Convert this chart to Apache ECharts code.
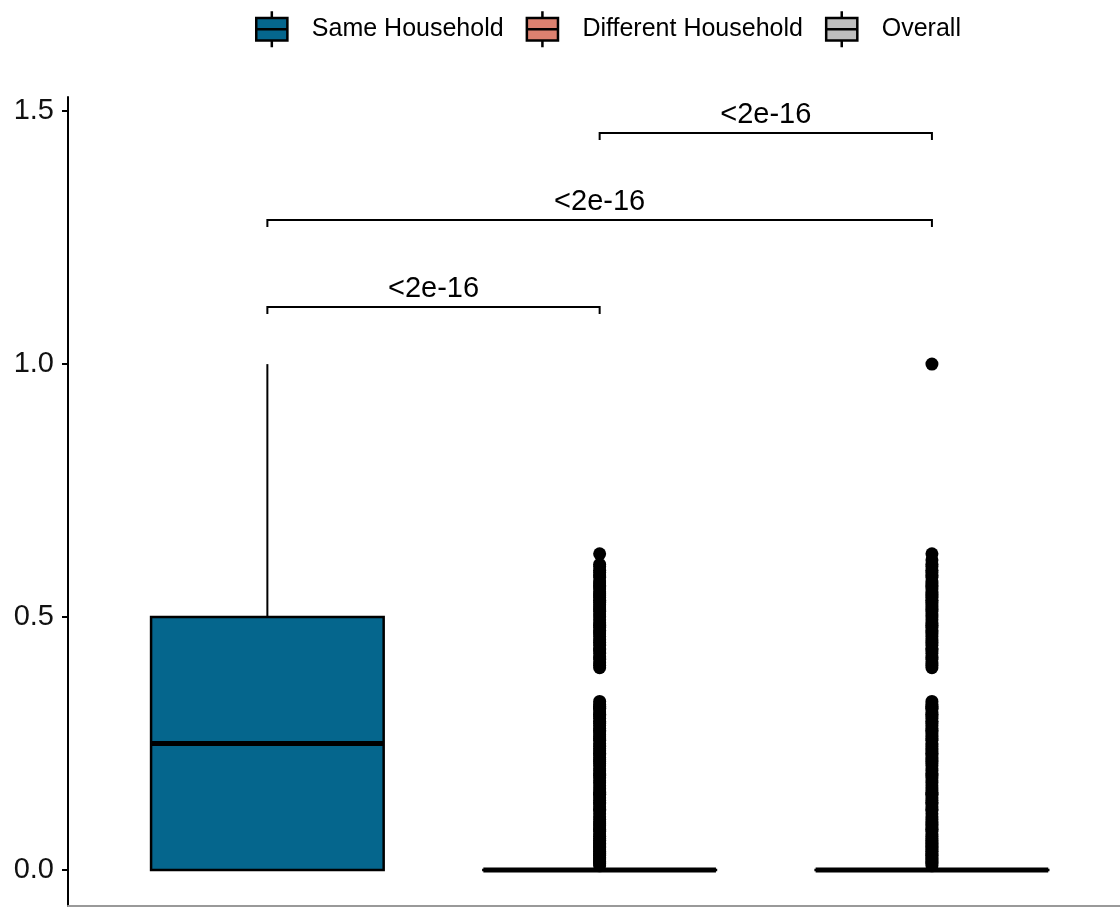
<!DOCTYPE html>
<html>
<head>
<meta charset="utf-8">
<script src="https://cdn.jsdelivr.net/npm/echarts@6/dist/echarts.min.js"></script>
<style>
  html, body { margin: 0; padding: 0; background: #ffffff; }
  #chart { width: 1120px; height: 907px; }
</style>
</head>
<body>
<div id="chart"></div>
<script>
// Groups and their box summaries: [position, lower whisker, Q1, median, Q3, upper whisker]
const groups = ['Same Household', 'Different Household', 'Overall'];
const groupColors = ['#05668D', '#DB8170', '#BEBEBE'];
const sameStats = [1, 0, 0, 0.25, 0.5, 1.0];
const diffStats = [2, 0, 0, 0, 0, 0];
const overallStats = [3, 0, 0, 0, 0, 0];

// Outlying observations (proportions) per group
const diffOutliers = [
  0.0083, 0.0125, 0.0143, 0.0167, 0.02, 0.0222, 0.025, 0.0286, 0.0303, 0.0333, 0.0370, 0.04,
  0.0435, 0.0455, 0.05, 0.0526, 0.0556, 0.0588, 0.0625, 0.0667, 0.0714, 0.0769, 0.08, 0.0833,
  0.0870, 0.0909, 0.0952, 0.1, 0.1053, 0.1111, 0.1176, 0.12, 0.125, 0.1304, 0.1333, 0.1379,
  0.1429, 0.1481, 0.15, 0.1538, 0.16, 0.1667, 0.1724, 0.1765, 0.1818, 0.1875, 0.1905, 0.1961,
  0.2, 0.2059, 0.2105, 0.2143, 0.2174, 0.2222, 0.2273, 0.2308, 0.2353, 0.24, 0.2449, 0.25,
  0.2564, 0.2593, 0.2632, 0.2667, 0.2727, 0.2759, 0.28, 0.2857, 0.2903, 0.2941, 0.3, 0.3043,
  0.3077, 0.3125, 0.3182, 0.32, 0.3235, 0.3273, 0.3333,
  0.4, 0.4048, 0.4091, 0.4167, 0.4211, 0.4286, 0.4348, 0.4375, 0.4444, 0.45, 0.4545, 0.4615,
  0.4667, 0.4706, 0.4737, 0.48, 0.4839, 0.4889, 0.4946, 0.5, 0.5063, 0.5116, 0.5161, 0.52,
  0.5238, 0.5294, 0.5333, 0.5385, 0.5417, 0.5455, 0.55, 0.5556, 0.56, 0.5625, 0.5676, 0.5714,
  0.5789, 0.5833, 0.5882, 0.5926, 0.6, 0.6042, 0.625
];
const overallOutliers = [
  0.0083, 0.0125, 0.0143, 0.0167, 0.02, 0.0222, 0.025, 0.0286, 0.0303, 0.0333, 0.0370, 0.04,
  0.0435, 0.0455, 0.05, 0.0526, 0.0556, 0.0588, 0.0625, 0.0667, 0.0714, 0.0769, 0.08, 0.0833,
  0.0870, 0.0909, 0.0952, 0.1, 0.1053, 0.1111, 0.1176, 0.12, 0.125, 0.1304, 0.1333, 0.1379,
  0.1429, 0.1481, 0.15, 0.1538, 0.16, 0.1667, 0.1724, 0.1765, 0.1818, 0.1875, 0.1905, 0.1961,
  0.2, 0.2059, 0.2105, 0.2143, 0.2174, 0.2222, 0.2273, 0.2308, 0.2353, 0.24, 0.2449, 0.25,
  0.2564, 0.2593, 0.2632, 0.2667, 0.2727, 0.2759, 0.28, 0.2857, 0.2903, 0.2941, 0.3, 0.3043,
  0.3077, 0.3125, 0.3182, 0.32, 0.3235, 0.3273, 0.3333,
  0.4, 0.4048, 0.4091, 0.4167, 0.4211, 0.4286, 0.4348, 0.4375, 0.4444, 0.45, 0.4545, 0.4615,
  0.4667, 0.4706, 0.4737, 0.48, 0.4839, 0.4889, 0.4946, 0.5, 0.5063, 0.5116, 0.5161, 0.52,
  0.5238, 0.5294, 0.5333, 0.5385, 0.5417, 0.5455, 0.55, 0.5556, 0.56, 0.5625, 0.5676, 0.5714,
  0.5789, 0.5833, 0.5882, 0.5926, 0.6, 0.6042, 0.6129, 0.625,
  1.0
];

// Pairwise comparisons: [from group, to group, bracket height] and their p-values
const comparisons = [[1, 2, 1.113], [1, 3, 1.285], [2, 3, 1.457]];
const pLabels = ['<2e-16', '<2e-16', '<2e-16'];

// Y axis ticks
const yTicks = [0, 0.5, 1.0, 1.5];

const FONT = '"Liberation Sans", Arial, Helvetica, sans-serif';
const BOX_WIDTH = 0.70;

function renderBox(params, api) {
  const x = api.value(0);
  const lo = api.coord([x, api.value(1)]);
  const q1 = api.coord([x, api.value(2)]);
  const med = api.coord([x, api.value(3)]);
  const q3 = api.coord([x, api.value(4)]);
  const hi = api.coord([x, api.value(5)]);
  const half = api.size([BOX_WIDTH, 0])[0] / 2;
  const cx = med[0];
  const line = { stroke: '#000', lineWidth: 2 };
  return {
    type: 'group',
    children: [
      { type: 'line', shape: { x1: cx, y1: q3[1], x2: cx, y2: hi[1] }, style: line },
      { type: 'line', shape: { x1: cx, y1: q1[1], x2: cx, y2: lo[1] }, style: line },
      {
        type: 'rect',
        shape: { x: cx - half, y: q3[1], width: half * 2, height: Math.max(q1[1] - q3[1], 0.01) },
        style: { fill: api.visual('color'), stroke: '#000', lineWidth: 2.5 }
      },
      { type: 'line', shape: { x1: cx - half, y1: med[1], x2: cx + half, y2: med[1] },
        style: { stroke: '#000', lineWidth: 5 } }
    ]
  };
}

function renderBracket(params, api) {
  const a = api.coord([api.value(0), api.value(2)]);
  const b = api.coord([api.value(1), api.value(2)]);
  const drop = 7;
  const style = { stroke: '#000', lineWidth: 2, fill: null };
  return {
    type: 'group',
    children: [
      { type: 'polyline', shape: { points: [[a[0], a[1] + drop], [a[0], a[1]], [b[0], b[1]], [b[0], b[1] + drop]] }, style: style },
      {
        type: 'text',
        x: (a[0] + b[0]) / 2,
        y: a[1] - 3,
        style: {
          text: pLabels[params.dataIndex],
          fill: '#000',
          font: '29px ' + FONT,
          align: 'center',
          verticalAlign: 'bottom'
        }
      }
    ]
  };
}

const chart = echarts.init(document.getElementById('chart'), null, { renderer: 'canvas' });

const boxData = [sameStats, diffStats, overallStats];
const series = groups.map((g, i) => ({
  name: g,
  type: 'custom',
  renderItem: renderBox,
  itemStyle: { color: groupColors[i] },
  encode: { x: 0, y: [1, 2, 3, 4, 5] },
  data: [boxData[i]],
  z: 2
}));

series.push({
  name: 'outliers-diff',
  type: 'scatter',
  symbolSize: 13,
  itemStyle: { color: '#000', opacity: 1 },
  data: diffOutliers.map(v => [2, v]),
  z: 3,
  silent: true
});
series.push({
  name: 'outliers-overall',
  type: 'scatter',
  symbolSize: 13,
  itemStyle: { color: '#000', opacity: 1 },
  data: overallOutliers.map(v => [3, v]),
  z: 3,
  silent: true
});
series.push({
  name: 'comparisons',
  type: 'custom',
  renderItem: renderBracket,
  encode: { x: [0, 1], y: 2 },
  data: comparisons,
  z: 4,
  silent: true
});

chart.setOption({
  animation: false,
  backgroundColor: '#ffffff',
  textStyle: { fontFamily: FONT },
  legend: {
    data: groups,
    left: 250,
    top: 5,
    itemWidth: 34,
    itemHeight: 36,
    itemGap: 22,
    icon: 'path://M0,7L32,7L32,30L0,30Z M16,0L16,7 M16,30L16,37 M0,18.5L32,18.5',
    itemStyle: { borderColor: '#000', borderWidth: 2.5 },
    textStyle: { fontSize: 25, color: '#000', fontFamily: FONT, padding: [0, 0, 0, 18] },
    selectedMode: false
  },
  grid: { left: 68, right: 0, top: 97, bottom: 1, containLabel: false },
  xAxis: {
    type: 'value',
    min: 0.4,
    max: 3.566,
    axisLine: { show: true, onZero: false, lineStyle: { color: '#999', width: 2 } },
    axisTick: { show: false },
    axisLabel: { show: false },
    splitLine: { show: false }
  },
  yAxis: {
    type: 'value',
    min: -0.0711,
    max: 1.528,
    axisLine: { show: true, onZero: false, lineStyle: { color: '#000', width: 2 } },
    axisTick: { show: true, length: 6, lineStyle: { color: '#000', width: 2 }, customValues: yTicks },
    axisLabel: {
      show: true,
      customValues: yTicks,
      formatter: v => Number(v).toFixed(1),
      fontSize: 29,
      color: '#111',
      margin: 14,
      fontFamily: FONT
    },
    splitLine: { show: false }
  },
  series: series
});
</script>
</body>
</html>
